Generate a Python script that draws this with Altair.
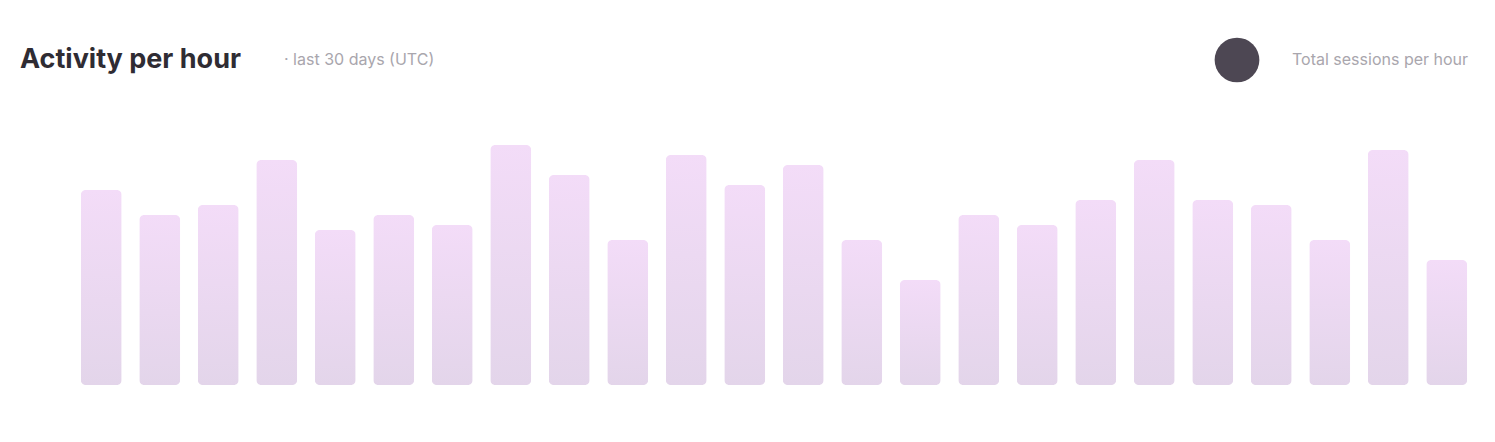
import altair as alt
import pandas as pd

hours = [f"{h:02d}:00" for h in range(24)]
values = [195, 170, 180, 225, 155, 170, 160, 240, 210, 145, 230, 200,
          220, 145, 105, 170, 160, 185, 225, 185, 180, 145, 235, 125]

title_text = "Activity per hour"
subtitle_text = "· last 30 days (UTC)"
legend_text = "Total sessions per hour"

df = pd.DataFrame({"hour": hours, "value": values})
one = pd.DataFrame({"k": [0]})

bars = alt.Chart(df).mark_bar(
    cornerRadius=5,
    color=alt.Gradient(
        gradient="linear",
        stops=[alt.GradientStop(color="#e3d5ea", offset=0),
               alt.GradientStop(color="#f3dcf8", offset=1)],
        x1=1, x2=1, y1=1, y2=0,
    ),
).encode(
    x=alt.X("hour:N", sort=hours, axis=None,
            scale=alt.Scale(paddingInner=0.3, paddingOuter=0.15)),
    y=alt.Y("value:Q", axis=None, scale=alt.Scale(domain=[0, 255], nice=False)),
)

title = alt.Chart(one).mark_text(
    text=title_text, align="left", baseline="middle", fontSize=27,
    fontWeight="bold", font="Inter", color="#2f2c33",
).encode(x=alt.value(-52), y=alt.value(-70))

sub = alt.Chart(one).mark_text(
    text=subtitle_text, align="left", baseline="middle", fontSize=16,
    font="Inter", color="#a9a6ad",
).encode(x=alt.value(212), y=alt.value(-70))

dot = alt.Chart(one).mark_point(
    filled=True, shape="circle", size=2000, color="#4d4753", opacity=1,
).encode(x=alt.value(1165), y=alt.value(-70))

leg = alt.Chart(one).mark_text(
    text=legend_text, align="left", baseline="middle", fontSize=16,
    font="Inter", color="#a9a6ad",
).encode(x=alt.value(1220), y=alt.value(-70))

chart = alt.layer(bars, title, sub, dot, leg).properties(
    width=1404, height=255,
    autosize=alt.AutoSizeParams(type="none"),
    padding={"left": 64, "top": 122, "right": 11, "bottom": 40},
).configure_view(stroke=None)

chart.save("out.html", embed_options={"renderer": "svg", "actions": False})
